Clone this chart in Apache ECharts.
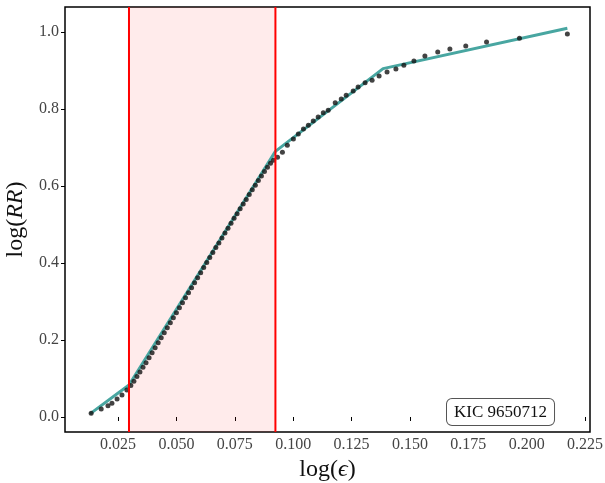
<!DOCTYPE html>
<html>
<head>
<meta charset="utf-8">
<script src="https://cdn.jsdelivr.net/npm/echarts@6/dist/echarts.min.js"></script>
<style>
  html, body { margin: 0; padding: 0; background: #fff; }
  #chart { width: 605px; height: 483px; }
</style>
</head>
<body>
<div id="chart"></div>
<script>
// measured points: log(eps) vs log(RR)
var dotX = [0.0135, 0.0178, 0.0207, 0.0224, 0.0246, 0.0267, 0.0288,
    0.0305, 0.0318, 0.0331, 0.0344, 0.0357, 0.0370, 0.0383, 0.0396, 0.0409, 0.0422,
    0.0435, 0.0448, 0.0461, 0.0474, 0.0487, 0.0500, 0.0513, 0.0526, 0.0539, 0.0552,
    0.0565, 0.0578, 0.0591, 0.0604, 0.0617, 0.0630, 0.0643, 0.0656, 0.0669, 0.0682,
    0.0695, 0.0708, 0.0721, 0.0734, 0.0747, 0.0760, 0.0773, 0.0786, 0.0799, 0.0812,
    0.0825, 0.0838, 0.0851, 0.0864, 0.0877, 0.0890, 0.0903, 0.0916,
    0.0933, 0.0954, 0.0975, 0.1001, 0.1022, 0.1044, 0.1065, 0.1086, 0.1107, 0.1129,
    0.1150, 0.1180, 0.1206, 0.1227, 0.1257, 0.1278, 0.1308, 0.1338, 0.1368, 0.1402,
    0.1440, 0.1474, 0.1517, 0.1564, 0.1619, 0.1671, 0.1739, 0.1828, 0.1969, 0.2174];
var dotY = [0.010, 0.021, 0.029, 0.036, 0.047, 0.057, 0.070,
    0.082, 0.093, 0.105, 0.117, 0.129, 0.141, 0.154, 0.167, 0.180, 0.193,
    0.206, 0.219, 0.232, 0.245, 0.258, 0.271, 0.284, 0.297, 0.310, 0.323,
    0.336, 0.349, 0.362, 0.375, 0.388, 0.401, 0.414, 0.427, 0.440, 0.452,
    0.465, 0.478, 0.490, 0.503, 0.516, 0.528, 0.541, 0.553, 0.565, 0.578,
    0.590, 0.602, 0.614, 0.626, 0.638, 0.649, 0.659, 0.667,
    0.675, 0.688, 0.706, 0.722, 0.735, 0.748, 0.758, 0.769, 0.779, 0.790,
    0.797, 0.816, 0.826, 0.836, 0.847, 0.857, 0.868, 0.875, 0.886, 0.896,
    0.904, 0.914, 0.925, 0.938, 0.948, 0.956, 0.964, 0.974, 0.984, 0.995];

// piecewise linear fit
var fitX = [0.0130, 0.0297, 0.0924, 0.1385, 0.2174];
var fitY = [0.008, 0.083, 0.690, 0.905, 1.010];

// scaling region
var regionX = [0.0297, 0.0924];

var xTicks = [0.025, 0.050, 0.075, 0.100, 0.125, 0.150, 0.175, 0.200, 0.225];
var yTicks = [0.0, 0.2, 0.4, 0.6, 0.8, 1.0];

var xMin = 0.0023, xMax = 0.2271;
var yMin = -0.039, yMax = 1.065;

var font = '"Liberation Serif", "DejaVu Serif", serif';

var chart = echarts.init(document.getElementById('chart'));

var pairs = function (xs, ys) {
    return xs.map(function (x, i) { return [x, ys[i]]; });
};

var nameRich = {
    n: { fontFamily: font, fontSize: 24, color: '#111' },
    i: { fontFamily: font, fontSize: 24, fontStyle: 'italic', color: '#111' }
};

var series = [
    {
        // shaded scaling region
        type: 'line',
        data: [[regionX[0], yMax], [regionX[1], yMax]],
        symbol: 'none',
        lineStyle: { width: 0 },
        areaStyle: { color: 'rgba(255,0,0,0.11)', origin: 'start' },
        z: 1
    },
    {
        type: 'line',
        data: pairs(fitX, fitY),
        symbol: 'none',
        z: 3,
        lineStyle: { color: '#48a6a1', width: 3 }
    },
    {
        type: 'scatter',
        data: pairs(dotX, dotY),
        symbolSize: 5,
        z: 4,
        itemStyle: { color: '#141414' }
    }
];

regionX.forEach(function (x) {
    series.push({
        type: 'line',
        data: [[x, yMin], [x, yMax]],
        symbol: 'none',
        z: 5,
        lineStyle: { color: '#ff0000', width: 2 }
    });
});

option = {
    animation: false,
    grid: {
        left: 65,
        top: 7,
        width: 525,
        height: 425,
        outerBoundsMode: 'none',
        show: true,
        borderColor: '#000',
        borderWidth: 1.5
    },
    xAxis: {
        type: 'value',
        min: xMin,
        max: xMax,
        name: '{n|log(}{i|ϵ}{n|)}',
        nameLocation: 'middle',
        nameGap: 22,
        nameTextStyle: { rich: nameRich },
        axisLine: { show: false },
        splitLine: { show: false },
        axisTick: { show: true, length: 4, customValues: xTicks, lineStyle: { color: '#000' } },
        axisLabel: {
            customValues: xTicks,
            formatter: function (v) { return v.toFixed(3); },
            fontFamily: font,
            fontSize: 16,
            color: '#444',
            margin: 5
        }
    },
    yAxis: {
        type: 'value',
        min: yMin,
        max: yMax,
        name: '{n|log(}{i|RR}{n|)}',
        nameLocation: 'middle',
        nameRotate: 90,
        nameGap: 30,
        nameTextStyle: { rich: nameRich },
        axisLine: { show: false },
        splitLine: { show: false },
        axisTick: { show: true, length: 4, customValues: yTicks, lineStyle: { color: '#000' } },
        axisLabel: {
            customValues: yTicks,
            formatter: function (v) { return v.toFixed(1); },
            fontFamily: font,
            fontSize: 16,
            color: '#444',
            margin: 6
        }
    },
    series: series,
    graphic: [
        {
            type: 'text',
            left: 446,
            top: 398,
            z: 10,
            style: {
                text: 'KIC 9650712',
                font: '17px ' + font,
                fill: '#111',
                backgroundColor: '#fff',
                borderColor: '#555',
                borderWidth: 1,
                borderRadius: 5,
                padding: [5, 7, 4, 7]
            }
        }
    ]
};

chart.setOption(option);
</script>
</body>
</html>
